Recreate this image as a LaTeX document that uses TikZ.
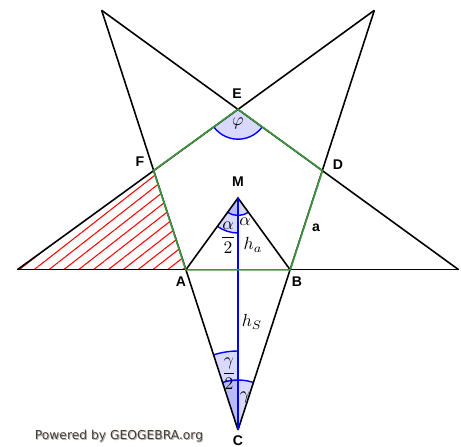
\documentclass[tikz,border=0pt]{standalone}
\usepackage{fontspec}
\setsansfont{Liberation Sans}
\newfontfamily\ggbfont{DejaVu Sans}
\usetikzlibrary{angles,patterns.meta}
\definecolor{edgegreen}{RGB}{64,150,64}
\definecolor{ggbtext}{RGB}{70,60,50}
\tikzset{
    ptlabel/.style={font=\sffamily\bfseries\footnotesize},
    anglemark/.style={draw=blue, line width=0.8pt, fill=blue, fill opacity=0.15}
}
\begin{document}
\begin{tikzpicture}[x=0.02cm, y=0.02cm, line width=0.9pt]
    \useasboundingbox (-238,-249) rectangle (223,198);
    % pentagon corners and star tips
    \coordinate (M) at (0,0);
    \foreach \name/\ang in {E/90, F/162, A/234, B/306, D/18}
        \coordinate (\name) at (\ang:88.8);
    \foreach \name/\ang in {C/270, tipL/198, tipTL/126, tipTR/54, tipR/342}
        \coordinate (\name) at (\ang:232);
    % hatched triangle
    \fill[pattern={Lines[angle=38, distance=5.2pt, line width=0.6pt]}, pattern color=red]
        (tipL) -- (F) -- (A) -- cycle;
    % angles
    \pic[anglemark, angle radius=0.6cm] {angle=F--E--D};
    \pic[anglemark, angle radius=0.35cm] {angle=A--M--B};
    \pic[anglemark, angle radius=0.7cm] {angle=A--M--C};
    \pic[anglemark, angle radius=1cm] {angle=B--C--A};
    \pic[anglemark, angle radius=1.58cm] {angle=M--C--A};
    % star
    \draw (tipL) -- (tipR);
    \draw (tipL) -- (tipTR);
    \draw (tipTL) -- (tipR);
    \draw (tipTL) -- (C);
    \draw (tipTR) -- (C);
    \draw (A) -- (M) -- (B);
    \draw[blue] (M) -- (C);
    \draw[edgegreen] (A) -- (B) -- (D) -- (E) -- (F) -- cycle;
    % labels
    \node[ptlabel] (labE) at (-1,104) {E};
    \node[ptlabel] (labF) at (-98,36) {F};
    \node[ptlabel] (labD) at (100,33) {D};
    \node[ptlabel] (labM) at (0,16) {M};
    \node[ptlabel] (labA) at (-57,-84) {A};
    \node[ptlabel] (labB) at (59,-84) {B};
    \node[ptlabel] (labC) at (0,-243) {C};
    \node[ptlabel] (laba) at (78,-30) {a};
    \node (phi) at (0,75) {$\varphi$};
    \node (alpha) at (7,-24) {$\alpha$};
    \node (halfalpha) at (-10,-40) {$\displaystyle\frac{\alpha}{2}$};
    \node (ha) at (15,-47) {$h_a$};
    \node (hS) at (14,-124) {$h_S$};
    \node (halfgamma) at (-9,-176) {$\displaystyle\frac{\gamma}{2}$};
    \node (gamma) at (7,-199) {$\gamma$};
    \node[font=\ggbfont\fontsize{7}{9}\selectfont, text=gray!60] (ggbshadow) at (-118,-239.5) {Powered by GEOGEBRA.org};
    \node[font=\ggbfont\fontsize{7}{9}\selectfont, text=ggbtext] (ggb) at (-119,-238) {Powered by GEOGEBRA.org};
\end{tikzpicture}
\end{document}
